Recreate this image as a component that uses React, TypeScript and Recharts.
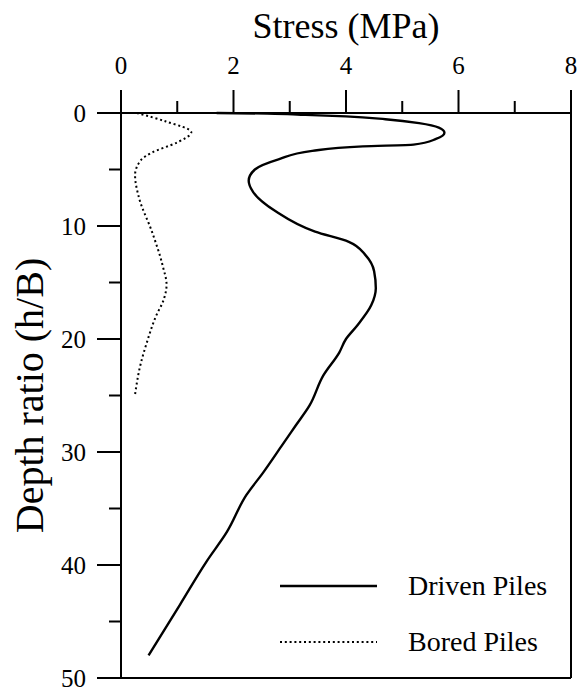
import { LineChart, Line, XAxis, YAxis, ReferenceLine, Legend } from "recharts";

const stressTicks = [0, 1, 2, 3, 4, 5, 6, 7, 8];
const depthTicks = [0, 5, 10, 15, 20, 25, 30, 35, 40, 45, 50];
const seriesNames = ["Driven Piles", "Bored Piles"];

const drivenDepth = [
    0, 0.05, 0.15, 0.3, 0.55, 0.9, 1.3, 1.75, 2.3, 2.8, 2.95, 3.35, 4.1, 5.0, 6.0, 7.0, 8.7, 10.5,
    11.4, 12.6, 14.0, 15.5, 17.0, 18.8, 20.0, 21.2, 23.2, 25.9, 27.7, 29.5, 31.8, 33.8, 37.1, 39.7,
    43.5, 48.0,
];
const drivenStress = [
    1.7, 2.6, 3.2, 4.0, 4.7, 5.3, 5.65, 5.75, 5.6, 5.2, 4.3, 3.4, 2.8, 2.38, 2.27, 2.35, 2.75, 3.45,
    4.05, 4.35, 4.5, 4.53, 4.45, 4.2, 4.0, 3.88, 3.6, 3.35, 3.1, 2.85, 2.53, 2.23, 1.88, 1.52, 1.05,
    0.49,
];

const boredDepth = [0, 0.75, 1.7, 2.6, 3.5, 4.2, 5.5, 7.5, 10.5, 13.5, 15.2, 16.5, 18.0, 20.3, 22.4, 24.9];
const boredStress = [0.28, 0.8, 1.25, 1.0, 0.55, 0.35, 0.25, 0.32, 0.55, 0.74, 0.81, 0.76, 0.62, 0.46, 0.34, 0.25];

const drivenData = drivenDepth.map((depth, i) => ({ depth, stress: drivenStress[i] }));
const boredData = boredDepth.map((depth, i) => ({ depth, stress: boredStress[i] }));

const FONT = '"Liberation Serif", "Times New Roman", serif';
const DOTS = "2 2.8";

const StressTick = ({ x, y, payload }: any) => {
    const major = payload.value % 2 === 0;
    const len = major ? 23 : 12;
    return (
        <g>
            <line x1={x} y1={y} x2={x} y2={y - len} stroke="#000" strokeWidth={2} />
            {major && (
                <text x={x} y={y - 48} textAnchor="middle" dominantBaseline="central" fontSize={25} fontFamily={FONT} fill="#000">
                    {payload.value}
                </text>
            )}
        </g>
    );
};

const DepthTick = ({ x, y, payload }: any) => {
    const major = payload.value % 10 === 0;
    const len = major ? 24 : 12;
    return (
        <g>
            <line x1={x} y1={y} x2={x - len} y2={y} stroke="#000" strokeWidth={2} />
            {major && (
                <text x={x - 35} y={y} textAnchor="end" dominantBaseline="central" fontSize={25} fontFamily={FONT} fill="#000">
                    {payload.value}
                </text>
            )}
        </g>
    );
};

const LegendBox = () => (
    <div style={{ fontFamily: FONT, fontSize: 28, color: "#000" }}>
        {seriesNames.map((name, i) => (
            <div key={name} style={{ display: "flex", alignItems: "center", height: 56 }}>
                <svg width={97} height={6} style={{ marginRight: 31 }}>
                    <line
                        x1={0}
                        y1={3}
                        x2={97}
                        y2={3}
                        stroke="#000"
                        strokeWidth={i === 0 ? 2.4 : 2}
                        strokeDasharray={i === 0 ? undefined : DOTS}
                    />
                </svg>
                <span>{name}</span>
            </div>
        ))}
    </div>
);

const App = () => {
    return (
        <div style={{ position: "absolute", left: 0, top: 0, background: "#fff" }}>
            <LineChart width={579} height={692} layout="vertical" margin={{ top: 0, right: 8, bottom: 14, left: 0 }}>
                <XAxis
                    type="number"
                    orientation="top"
                    domain={[0, 8]}
                    ticks={stressTicks}
                    interval={0}
                    height={113}
                    tickSize={0}
                    tickMargin={0}
                    tickLine={false}
                    axisLine={{ stroke: "#000", strokeWidth: 2 }}
                    tick={<StressTick />}
                    label={({ viewBox }: any) => (
                        <text x={viewBox.x + viewBox.width / 2} y={26} textAnchor="middle" dominantBaseline="central" fontSize={36} fontFamily={FONT} fill="#000">
                            Stress (MPa)
                        </text>
                    )}
                />
                <YAxis
                    type="number"
                    dataKey="depth"
                    domain={[0, 50]}
                    ticks={depthTicks}
                    interval={0}
                    width={121}
                    tickSize={0}
                    tickMargin={0}
                    tickLine={false}
                    axisLine={{ stroke: "#000", strokeWidth: 2 }}
                    tick={<DepthTick />}
                    label={({ viewBox }: any) => {
                        const cy = viewBox.y + viewBox.height / 2;
                        return (
                            <text x={29} y={cy} transform={`rotate(-90 29 ${cy})`} textAnchor="middle" dominantBaseline="central" fontSize={40} fontFamily={FONT} fill="#000">
                                Depth ratio (h/B)
                            </text>
                        );
                    }}
                />
                <ReferenceLine x={8} stroke="#000" strokeWidth={2} />
                <ReferenceLine y={50} stroke="#000" strokeWidth={2} />
                <Legend layout="vertical" align="center" verticalAlign="middle" wrapperStyle={{ left: 280, top: 558, width: 290 }} content={<LegendBox />} />
                <Line
                    data={drivenData}
                    dataKey="stress"
                    name={seriesNames[0]}
                    type="monotone"
                    stroke="#000"
                    strokeWidth={2.4}
                    dot={false}
                    isAnimationActive={false}
                />
                <Line
                    data={boredData}
                    dataKey="stress"
                    name={seriesNames[1]}
                    type="monotone"
                    stroke="#000"
                    strokeWidth={2}
                    strokeDasharray={DOTS}
                    dot={false}
                    isAnimationActive={false}
                />
            </LineChart>
        </div>
    );
};

export default App;
